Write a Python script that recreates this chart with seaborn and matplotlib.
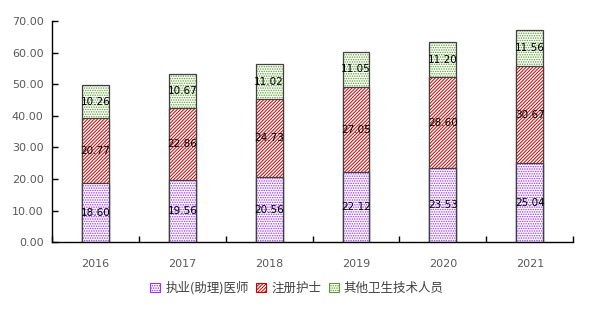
import numpy as np
import pandas as pd
import matplotlib
matplotlib.use('Agg')
import matplotlib.pyplot as plt
import seaborn as sns
from matplotlib.patches import Patch
from matplotlib.ticker import FormatStrFormatter, FixedLocator

years = ['2016', '2017', '2018', '2019', '2020', '2021']
doctors = [18.60, 19.56, 20.56, 22.12, 23.53, 25.04]
nurses = [20.77, 22.86, 24.73, 27.05, 28.60, 30.67]
others = [10.26, 10.67, 11.02, 11.05, 11.20, 11.56]
series_names = ['执业(助理)医师', '注册护士', '其他卫生技术人员']

sns.set_style('white')
plt.rcParams['font.family'] = ['Noto Sans CJK SC', 'DejaVu Sans']
plt.rcParams['hatch.linewidth'] = 0.7

df = pd.DataFrame({'year': years, 'doctors': doctors,
                   'nurses': nurses, 'others': others})
# cumulative heights, drawn back to front to stack the bars
df['c_doctors'] = df['doctors']
df['c_nurses'] = df['doctors'] + df['nurses']
df['c_others'] = df['c_nurses'] + df['others']

fig = plt.figure(figsize=(5.94, 3.14), dpi=100)
ax = fig.add_axes([0.0875, 0.229, 0.8775, 0.704])

layers = [('doctors', '#9b30ff', '.......'),
          ('nurses', '#cc0000', '//////////'),
          ('others', '#5c9e2e', '.......')]

for col, color, hatch in layers[::-1]:
    sns.barplot(data=df, x='year', y='c_' + col, width=0.31,
                color='white', edgecolor=color, hatch=hatch, linewidth=0,
                ax=ax)
    sns.barplot(data=df, x='year', y='c_' + col, width=0.31,
                fill=False, edgecolor='#404040', linewidth=0.9, ax=ax)

for col, _, _ in layers:
    top = df['c_' + col].values
    vals = df[col].values
    for i, v in enumerate(vals):
        ax.text(i, top[i] - v / 2, f'{v:.2f}', ha='center', va='center',
                fontsize=7.5, color='black', family='DejaVu Sans')

ax.set_ylim(0, 70)
ax.set_xlim(-0.5, 5.5)
ax.set_yticks(np.arange(0, 71, 10))
ax.yaxis.set_major_formatter(FormatStrFormatter('%.2f'))
ax.xaxis.set_minor_locator(FixedLocator(np.arange(-0.5, 5.6, 1)))
ax.tick_params(axis='x', which='major', length=0, pad=12, labelsize=8,
               labelcolor='#595959')
ax.tick_params(axis='x', which='minor', direction='in', length=4,
               width=1, color='black', bottom=True)
ax.tick_params(axis='y', direction='in', length=4, width=1, color='black',
               left=True, labelsize=8, labelcolor='#595959', pad=6)
for lab in ax.get_xticklabels() + ax.get_yticklabels():
    lab.set_family('DejaVu Sans')
ax.set_xlabel('')
ax.set_ylabel('')
for s in ['top', 'right']:
    ax.spines[s].set_visible(False)
for s in ['left', 'bottom']:
    ax.spines[s].set_color('black')
    ax.spines[s].set_linewidth(1)

handles = [Patch(facecolor='white', edgecolor=c, hatch=h, linewidth=0.8)
           for _, c, h in layers]
fig.legend(handles, series_names, loc='center', bbox_to_anchor=(0.5, 0.083),
           ncol=3, frameon=False, fontsize=9, handlelength=0.8,
           handleheight=0.8, handletextpad=0.4, columnspacing=0.6,
           labelcolor='#404040')

fig.savefig('out.png', dpi=100)
